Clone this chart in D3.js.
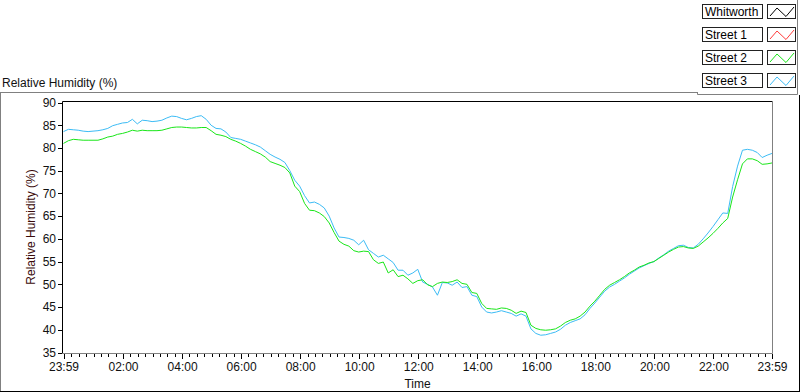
<!DOCTYPE html>
<html>
<head>
<meta charset="utf-8">
<script src="https://d3js.org/d3.v7.min.js"></script>
<style>
  body { margin: 0; background: #fff; }
  svg { display: block; font-family: "Liberation Sans", Arial, sans-serif; }
</style>
</head>
<body>
<div id="chart"></div>
<script>
// samples every 10 minutes, from 23:59 to 23:59 next day
var sampleStep = 10;
var seriesNames = ["Whitworth", "Street 1", "Street 2", "Street 3"];
var seriesColors = ["#000000", "#ff3c3c", "#19e619", "#3cbcf5"];

var whitworth = [];
var street1 = [];
var street2 = [
  81.0, 81.6, 81.9, 81.8, 81.7, 81.7,
  81.7, 81.7, 82.0, 82.4, 82.6, 83.0,
  83.2, 83.5, 83.9, 83.7, 83.9, 83.8,
  83.8, 83.8, 83.9, 84.2, 84.5, 84.6,
  84.6, 84.5, 84.4, 84.4, 84.5, 84.5,
  83.8, 83.0, 82.8, 82.5, 81.9, 81.5,
  81.0, 80.4, 79.7, 79.2, 78.7, 78.0,
  77.0, 76.6, 76.2, 75.7, 74.5, 71.6,
  70.4, 67.8, 66.3, 66.2, 65.7, 64.9,
  63.5, 61.4, 59.5, 58.8, 58.4, 57.4,
  57.1, 57.3, 57.2, 55.4, 54.6, 54.9,
  52.5, 53.2, 51.7, 52.0, 51.2, 50.2,
  50.8, 51.0, 49.9, 49.5, 50.2, 50.5,
  50.4, 50.6, 51.0, 50.2, 50.0, 48.2,
  48.0, 45.8, 44.7, 44.6, 44.5, 44.8,
  44.7, 44.3, 43.6, 44.1, 43.8, 41.0,
  40.3, 40.0, 39.9, 40.0, 40.2, 40.8,
  41.6, 42.1, 42.4, 43.0, 43.9, 45.2,
  46.3, 47.6, 48.9, 49.8, 50.4, 51.0,
  51.7, 52.5, 53.1, 53.8, 54.2, 54.7,
  55.0, 55.7, 56.4, 57.1, 57.7, 58.2,
  58.3, 58.0, 57.9, 58.4, 59.3, 60.2,
  61.2, 62.3, 63.5, 64.5, 69.2, 73.0,
  76.5, 77.6, 77.6, 77.2, 76.4, 76.5,
  76.7
];
var street3 = [
  83.6, 84.1, 84.0, 83.9, 83.7, 83.6,
  83.7, 83.8, 84.0, 84.3, 84.9, 85.2,
  85.5, 85.6, 86.3, 85.3, 86.1, 86.0,
  85.8, 85.9, 86.1, 86.6, 87.0, 86.9,
  86.5, 86.2, 86.5, 86.9, 87.1, 86.3,
  85.0, 84.3, 84.2, 83.5, 82.3, 82.1,
  81.9, 81.5, 81.1, 80.7, 80.2, 79.4,
  78.6, 78.0, 77.5, 76.8, 75.0, 72.9,
  71.6, 69.5, 67.9, 68.1, 67.6, 66.8,
  65.0, 62.4, 60.4, 60.3, 60.1, 59.7,
  58.7, 59.7, 57.6, 56.8, 56.0, 56.4,
  55.6, 54.8, 53.1, 53.1, 52.0, 52.5,
  53.3, 50.5, 50.0, 49.4, 47.6, 50.4,
  50.3, 49.8, 50.5, 49.3, 49.5, 47.6,
  47.3, 45.0, 43.9, 43.7, 43.9, 44.2,
  43.9, 43.6, 43.0, 43.5, 43.0, 40.2,
  39.2, 38.8, 38.9, 39.2, 39.5, 40.1,
  41.0, 41.6, 42.0, 42.4, 43.3, 44.7,
  45.9, 47.2, 48.5, 49.4, 50.0, 50.7,
  51.4, 52.2, 52.9, 53.6, 54.1, 54.6,
  55.0, 55.8, 56.5, 57.3, 57.9, 58.5,
  58.6, 58.1, 58.0, 58.8, 60.0, 61.3,
  62.7, 64.2, 65.7, 65.6, 71.5, 76.0,
  79.5, 79.7, 79.5, 79.0, 77.9, 78.4,
  78.8
];
var yTicks = [35, 40, 45, 50, 55, 60, 65, 70, 75, 80, 85, 90];
var xTickHours = [2, 4, 6, 8, 10, 12, 14, 16, 18, 20, 22];

var width = 800, height = 392;
var plot = { left: 63, top: 101, right: 772, bottom: 353 };
var fontSize = 12;

var t0 = new Date(2024, 0, 1, 23, 59);
var t1 = new Date(2024, 0, 2, 23, 59);

var svg = d3.select("#chart").append("svg")
  .attr("width", width).attr("height", height);

var x = d3.scaleTime().domain([t0, t1]).range([plot.left + 0.5, plot.right]);
var y = d3.scaleLinear().domain([35, 90]).range([352.5, 102.5]);

// outer panel
svg.append("line").attr("x1", 0).attr("x2", 697).attr("y1", 92.5).attr("y2", 92.5)
  .attr("stroke", "#808080");
svg.append("line").attr("x1", 0.5).attr("x2", 0.5).attr("y1", 92).attr("y2", 391)
  .attr("stroke", "#808080");
svg.append("line").attr("x1", 0).attr("x2", 800).attr("y1", 391.5).attr("y2", 391.5)
  .attr("stroke", "#000");
svg.append("line").attr("x1", 799.5).attr("x2", 799.5).attr("y1", 95).attr("y2", 392)
  .attr("stroke", "#000");

// legend panel frame
svg.append("path").attr("d", "M697.5,92 V94.5 H797.5 V0")
  .attr("fill", "none").attr("stroke", "#808080");

// panel title
svg.append("text").attr("x", 2).attr("y", 87)
  .attr("font-size", fontSize).attr("fill", "#111").text("Relative Humidity (%)");

// plot frame
svg.append("rect").attr("x", plot.left).attr("y", plot.top)
  .attr("width", plot.right - plot.left).attr("height", plot.bottom - plot.top)
  .attr("fill", "#fff");
svg.append("path").attr("d", "M" + (plot.left - 0.5) + "," + plot.bottom + " V" + (plot.top + 0.5) + " H" + plot.right)
  .attr("fill", "none").attr("stroke", "#000");
svg.append("path").attr("d", "M" + (plot.right + 0.5) + "," + plot.top + " V" + (plot.bottom + 0.5) + " H" + (plot.left - 1))
  .attr("fill", "none").attr("stroke", "#808080");

// y axis
var yAxis = svg.append("g")
  .attr("transform", "translate(" + (plot.left - 1) + ",0)")
  .call(d3.axisLeft(y).tickValues(yTicks).tickSize(4).tickPadding(2).tickSizeOuter(0));
yAxis.select(".domain").remove();
yAxis.selectAll("line").attr("stroke", "#000").attr("shape-rendering", "crispEdges");
yAxis.selectAll("text").attr("font-size", fontSize).attr("fill", "#111")
  .attr("font-family", "Liberation Sans, Arial, sans-serif");

// x axis: major ticks every 2 h plus both ends, minor every 15 min
var majorTicks = [t0].concat(xTickHours.map(function (h) { return new Date(2024, 0, 2, h, 0); })).concat([t1]);
var minorTicks = d3.timeMinute.every(15).range(t0, t1).filter(function (d) {
  var fromStart = (d - t0) / 60000;
  var isMajor = d.getMinutes() === 0 && d.getHours() % 2 === 0;
  return fromStart > 5 && !isMajor;
});

svg.append("g")
  .attr("transform", "translate(0," + (plot.bottom + 1) + ")")
  .call(d3.axisBottom(x).tickValues(minorTicks).tickSize(3).tickFormat(""))
  .call(function (g) { g.select(".domain").remove(); })
  .selectAll("line").attr("stroke", "#000").attr("shape-rendering", "crispEdges");

var fmt = d3.timeFormat("%H:%M");
var xAxis = svg.append("g")
  .attr("transform", "translate(0," + (plot.bottom + 1) + ")")
  .call(d3.axisBottom(x).tickValues(majorTicks).tickSize(5).tickPadding(3).tickFormat(fmt));
xAxis.select(".domain").remove();
xAxis.selectAll("line").attr("stroke", "#000").attr("shape-rendering", "crispEdges");
xAxis.selectAll("text").attr("font-size", fontSize).attr("fill", "#111")
  .attr("font-family", "Liberation Sans, Arial, sans-serif");

// axis titles
svg.append("text").attr("x", (plot.left + plot.right) / 2).attr("y", 388)
  .attr("text-anchor", "middle").attr("font-size", fontSize).attr("fill", "#111").text("Time");
svg.append("text")
  .attr("transform", "translate(35," + ((plot.top + plot.bottom) / 2) + ") rotate(-90)")
  .attr("text-anchor", "middle").attr("font-size", fontSize).attr("fill", "#3a0a0a")
  .text("Relative Humidity (%)");

// lines
var allSeries = [whitworth, street1, street3, street2];
var allColors = [seriesColors[0], seriesColors[1], seriesColors[3], seriesColors[2]];
var line = d3.line()
  .x(function (d, i) { return x(new Date(t0.getTime() + i * sampleStep * 60000)); })
  .y(function (d) { return y(d); });

svg.append("g").selectAll("path")
  .data(allSeries)
  .join("path")
  .attr("fill", "none")
  .attr("stroke", function (d, i) { return allColors[i]; })
  .attr("stroke-width", 1)
  .attr("d", function (d) { return d.length ? line(d) : null; });

// legend
var legend = svg.append("g").selectAll("g")
  .data(seriesNames)
  .join("g")
  .attr("transform", function (d, i) { return "translate(702," + (4 + i * 23) + ")"; });

legend.append("rect").attr("x", 0.5).attr("y", 0.5).attr("width", 60).attr("height", 14)
  .attr("fill", "#fff").attr("stroke", "#222");
legend.append("text").attr("x", 3).attr("y", 12)
  .attr("font-size", fontSize).attr("fill", "#000").text(function (d) { return d; });
legend.append("rect").attr("x", 65.5).attr("y", 0.5).attr("width", 28).attr("height", 14)
  .attr("fill", "#fff").attr("stroke", "#222");
legend.append("path")
  .attr("d", "M68,12 L75,4 L84,12.5 L92,3")
  .attr("fill", "none")
  .attr("stroke", function (d, i) { return seriesColors[i]; });
</script>
</body>
</html>
